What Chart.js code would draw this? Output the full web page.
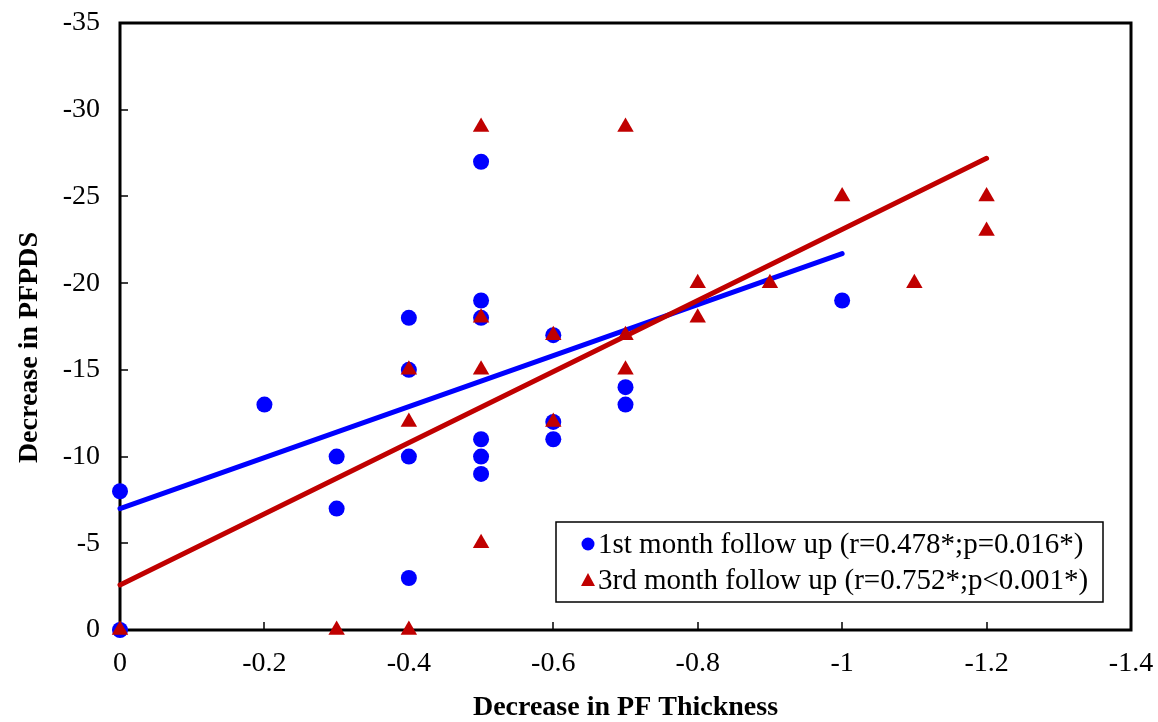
<!DOCTYPE html>
<html><head><meta charset="utf-8">
<script src="https://cdn.jsdelivr.net/npm/chart.js@4/dist/chart.umd.min.js"></script>
<style>html,body{margin:0;padding:0;background:#fff}#wrap{width:1158px;height:722px}</style>
</head><body><div id="wrap"><canvas id="c" width="1158" height="722"></canvas></div>
<script>
const xTicks = [0, -0.2, -0.4, -0.6, -0.8, -1, -1.2, -1.4];
const yTicks = [0, -5, -10, -15, -20, -25, -30, -35];

const seriesLabels = [
  '1st month follow up (r=0.478*;p=0.016*)',
  '3rd month follow up (r=0.752*;p<0.001*)'
];

const firstMonthX = [0, 0, -0.2, -0.3, -0.3, -0.4, -0.4, -0.4, -0.4, -0.5, -0.5, -0.5, -0.5, -0.5, -0.5, -0.6, -0.6, -0.6, -0.7, -0.7, -1.0];
const firstMonthY = [0, -8, -13, -10, -7, -18, -15, -10, -3, -27, -19, -18, -11, -10, -9, -17, -12, -11, -14, -13, -19];

const thirdMonthX = [0, -0.3, -0.4, -0.4, -0.4, -0.5, -0.5, -0.5, -0.5, -0.6, -0.6, -0.7, -0.7, -0.7, -0.8, -0.8, -0.9, -1.0, -1.1, -1.2, -1.2];
const thirdMonthY = [0, 0, 0, -12, -15, -29, -18, -15, -5, -17, -12, -29, -17, -15, -20, -18, -20, -25, -20, -25, -23];

const firstTrendX = [0, -1.0];
const firstTrendY = [-7.0, -21.7];
const thirdTrendX = [0, -1.2];
const thirdTrendY = [-2.6, -27.2];

const BLUE = '#0000FF';
const RED = '#C00000';
const SERIF = '"Liberation Serif", "Times New Roman", serif';

const pts = (xs, ys) => xs.map((x, i) => ({x: x, y: ys[i]}));
const noPad = s => { s.paddingTop = 0; s.paddingBottom = 0; s.paddingLeft = 0; s.paddingRight = 0; };

const boxPlugin = {
  id: 'box',
  beforeDatasetsDraw(chart) {
    const {ctx, chartArea: a, scales} = chart;
    ctx.save();
    ctx.strokeStyle = '#000';
    ctx.lineWidth = 1.5;
    ctx.beginPath();
    xTicks.forEach(v => {
      const px = Math.round(scales.x.getPixelForValue(v));
      ctx.moveTo(px, a.bottom); ctx.lineTo(px, a.bottom - 8);
    });
    yTicks.forEach(v => {
      const py = Math.round(scales.y.getPixelForValue(v));
      ctx.moveTo(a.left, py); ctx.lineTo(a.left + 8, py);
    });
    ctx.stroke();
    ctx.lineWidth = 3;
    ctx.strokeRect(a.left, a.top, a.right - a.left, a.bottom - a.top);
    ctx.restore();
  },
  afterDatasetsDraw(chart) {
    const {ctx, chartArea: a} = chart;
    const w = 547, h = 80;
    const x0 = a.right - 28 - w, y0 = a.bottom - 28 - h;
    ctx.save();
    ctx.fillStyle = '#fff';
    ctx.fillRect(x0, y0, w, h);
    ctx.strokeStyle = '#000';
    ctx.lineWidth = 1.5;
    ctx.strokeRect(x0, y0, w, h);
    ctx.font = '29px ' + SERIF;
    ctx.textBaseline = 'middle';
    const rows = [y0 + 22, y0 + 58];
    ctx.fillStyle = BLUE;
    ctx.beginPath(); ctx.arc(x0 + 32, rows[0], 6.5, 0, Math.PI * 2); ctx.fill();
    ctx.fillStyle = RED;
    ctx.beginPath();
    ctx.moveTo(x0 + 32, rows[1] - 7); ctx.lineTo(x0 + 39, rows[1] + 6); ctx.lineTo(x0 + 25, rows[1] + 6);
    ctx.closePath(); ctx.fill();
    ctx.fillStyle = '#000';
    ctx.fillText(seriesLabels[0], x0 + 42, rows[0] + 1);
    ctx.fillText(seriesLabels[1], x0 + 42, rows[1] + 1);
    ctx.restore();
  }
};

new Chart(document.getElementById('c'), {
  type: 'scatter',
  data: {
    datasets: [
      {label: seriesLabels[1], data: pts(thirdMonthX, thirdMonthY), pointStyle: 'triangle', radius: 9.5, backgroundColor: RED, borderColor: RED, borderWidth: 0, order: 0, clip: false},
      {label: seriesLabels[0], data: pts(firstMonthX, firstMonthY), pointStyle: 'circle', radius: 8, backgroundColor: BLUE, borderColor: BLUE, borderWidth: 0, order: 1, clip: false},
      {type: 'line', label: 'trend1', data: pts(firstTrendX, firstTrendY), borderColor: BLUE, borderWidth: 5, pointRadius: 0, borderCapStyle: 'round', order: 3, clip: false},
      {type: 'line', label: 'trend3', data: pts(thirdTrendX, thirdTrendY), borderColor: RED, borderWidth: 5, pointRadius: 0, borderCapStyle: 'round', order: 2, clip: false}
    ]
  },
  options: {
    responsive: false,
    animation: false,
    layout: {padding: {left: 0, right: 27, top: 23, bottom: 0}},
    plugins: {legend: {display: false}, tooltip: {enabled: false}},
    scales: {
      x: {
        type: 'linear', min: -1.4, max: 0, reverse: true,
        afterBuildTicks: s => { s.ticks = xTicks.map(v => ({value: v})); },
        afterFit: s => { s.height = 92; noPad(s); },
        grid: {display: false, drawTicks: false},
        border: {display: false},
        ticks: {padding: 17, color: '#000', font: {family: SERIF, size: 28}, maxRotation: 0, autoSkip: false, callback: v => String(Number(v.toFixed(1)))},
        title: {display: true, text: 'Decrease in PF Thickness', color: '#000', font: {family: SERIF, size: 28, weight: 'bold'}, padding: {top: 4, bottom: -3}}
      },
      y: {
        type: 'linear', min: -35, max: 0, reverse: true,
        afterBuildTicks: s => { s.ticks = yTicks.map(v => ({value: v})); },
        afterFit: s => { s.width = 120; noPad(s); },
        grid: {display: false, drawTicks: false},
        border: {display: false},
        ticks: {padding: 20, color: '#000', font: {family: SERIF, size: 28}, autoSkip: false, callback: v => String(v)},
        title: {display: true, text: 'Decrease in PFPDS      ', color: '#000', font: {family: SERIF, size: 28, weight: 'bold'}, padding: {top: 13, bottom: 13}}
      }
    }
  },
  plugins: [boxPlugin]
});
</script>
</body></html>
